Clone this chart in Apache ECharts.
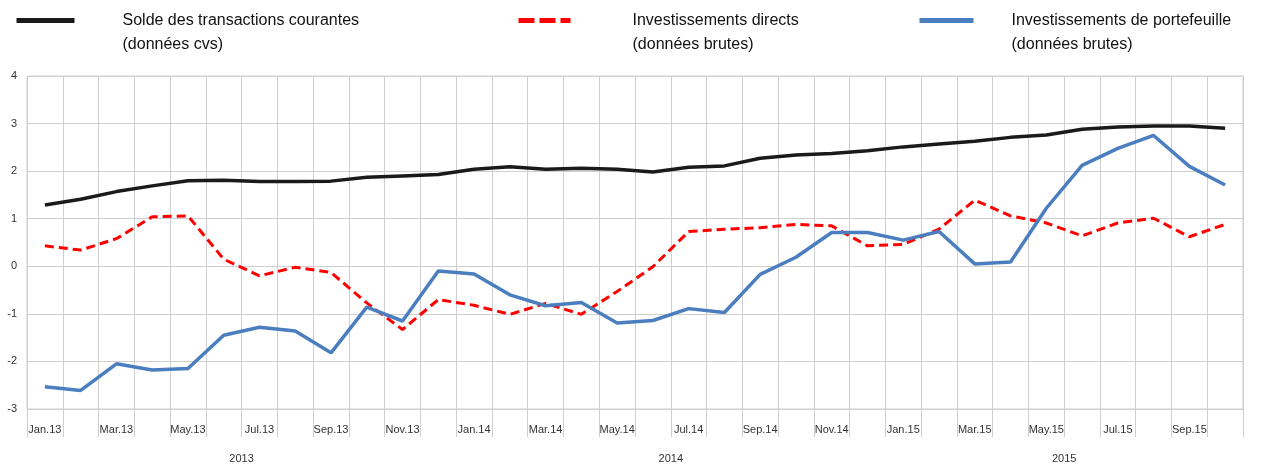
<!DOCTYPE html>
<html>
<head>
<meta charset="utf-8">
<script src="https://cdn.jsdelivr.net/npm/echarts@6/dist/echarts.min.js"></script>
<style>
html,body{margin:0;padding:0;background:#fff;}
#chart{width:1287px;height:464px;}
</style>
</head>
<body>
<div id="chart"></div>
<script>
var categories = ['Jan.13','Feb.13','Mar.13','Apr.13','May.13','Jun.13','Jul.13','Aug.13','Sep.13','Oct.13','Nov.13','Dec.13',
  'Jan.14','Feb.14','Mar.14','Apr.14','May.14','Jun.14','Jul.14','Aug.14','Sep.14','Oct.14','Nov.14','Dec.14',
  'Jan.15','Feb.15','Mar.15','Apr.15','May.15','Jun.15','Jul.15','Aug.15','Sep.15','Oct.15'];
var years = ['2013','2014','2015'];
var soldeName = 'Solde des transactions courantes\n(données cvs)';
var directName = 'Investissements directs\n(données brutes)';
var portName = 'Investissements de portefeuille\n(données brutes)';
var solde = [1.29,1.41,1.57,1.69,1.80,1.81,1.78,1.78,1.79,1.87,1.90,1.93,
  2.04,2.09,2.04,2.06,2.04,1.98,2.08,2.11,2.27,2.34,2.37,2.43,
  2.51,2.57,2.63,2.71,2.76,2.88,2.93,2.95,2.95,2.90];
var directs = [0.43,0.34,0.58,1.04,1.06,0.15,-0.20,-0.02,-0.13,-0.77,-1.33,-0.70,
  -0.82,-1.01,-0.78,-1.01,-0.53,-0.01,0.73,0.78,0.81,0.88,0.85,0.43,
  0.46,0.78,1.39,1.06,0.91,0.64,0.91,1.01,0.62,0.88];
var portefeuille = [-2.53,-2.61,-2.05,-2.18,-2.15,-1.45,-1.28,-1.36,-1.82,-0.86,-1.15,-0.10,
  -0.16,-0.60,-0.83,-0.76,-1.19,-1.14,-0.89,-0.97,-0.17,0.19,0.71,0.71,
  0.55,0.73,0.05,0.09,1.22,2.12,2.48,2.75,2.10,1.71];
var yTicks = [-3,-2,-1,0,1,2,3,4];

// year group boundaries and centres derived from the categories
var yearBounds = [0], yearCentres = [], yearLabelMap = {};
years.forEach(function (yr) {
  var n = categories.filter(function (c) { return c.slice(-2) === yr.slice(-2); }).length;
  var start = yearBounds[yearBounds.length - 1];
  yearBounds.push(start + n);
  var c = start + n / 2;
  yearCentres.push(c);
  yearLabelMap[c] = yr;
});

var chart = echarts.init(document.getElementById('chart'), null, {renderer: 'canvas'});
var FONT = '"Liberation Sans", Arial, sans-serif';
var GRID = '#cfcfcf';

function legendCfg(name, left, width, padLeft, lineType) {
  return {
    data: [name],
    left: left,
    top: -15.5,
    padding: 0,
    itemWidth: width,
    itemHeight: 5,
    selectedMode: false,
    formatter: function (n) { return '\n' + n; },
    lineStyle: {width: 5, type: lineType, cap: 'butt'},
    itemStyle: {opacity: 0},
    textStyle: {
      fontFamily: FONT, fontSize: 16, color: '#111',
      lineHeight: 24, padding: [0, 0, 0, padLeft]
    }
  };
}

chart.setOption({
  animation: false,
  backgroundColor: '#fff',
  legend: [
    legendCfg(soldeName, 14, 58, 43, 'solid'),
    legendCfg(directName, 516, 52, 57, [16, 5]),
    legendCfg(portName, 917, 54, 33, 'solid')
  ],
  grid: {left: 27, right: 44, top: 76, bottom: 55, show: true, borderColor: GRID, borderWidth: 1, containLabel: false},
  xAxis: [{
    type: 'category',
    data: categories,
    boundaryGap: true,
    axisLine: {show: false, onZero: false},
    axisTick: {show: true, interval: 0, length: 28, lineStyle: {color: GRID}},
    axisLabel: {interval: 1, margin: 15, fontFamily: FONT, fontSize: 11, color: '#333'},
    splitLine: {show: true, interval: 0, lineStyle: {color: GRID}}
  }, {
    type: 'value',
    min: 0,
    max: categories.length,
    position: 'bottom',
    axisLine: {show: false},
    splitLine: {show: false},
    axisTick: {show: true, customValues: yearBounds, length: 55, lineStyle: {color: GRID}},
    axisLabel: {
      customValues: yearCentres, margin: 44, fontFamily: FONT, fontSize: 11, color: '#333',
      formatter: function (v) { return yearLabelMap[v] || ''; }
    }
  }],
  yAxis: {
    type: 'value',
    min: yTicks[0],
    max: yTicks[yTicks.length - 1],
    interval: 1,
    axisLine: {show: false},
    axisTick: {show: false},
    axisLabel: {margin: 10, fontFamily: FONT, fontSize: 11, color: '#333'},
    splitLine: {show: true, lineStyle: {color: GRID}}
  },
  series: [{
    name: soldeName, type: 'line', data: solde, symbol: 'none', xAxisIndex: 0,
    lineStyle: {color: '#1a1a1a', width: 3.5}, itemStyle: {color: '#1a1a1a'}, z: 3
  }, {
    name: directName, type: 'line', data: directs, symbol: 'none', xAxisIndex: 0,
    lineStyle: {color: '#ff0000', width: 3, type: [9, 5]}, itemStyle: {color: '#ff0000'}, z: 2
  }, {
    name: portName, type: 'line', data: portefeuille, symbol: 'none', xAxisIndex: 0,
    lineStyle: {color: '#4a7ebf', width: 3.5}, itemStyle: {color: '#4a7ebf'}, z: 4
  }]
});
</script>
</body>
</html>
